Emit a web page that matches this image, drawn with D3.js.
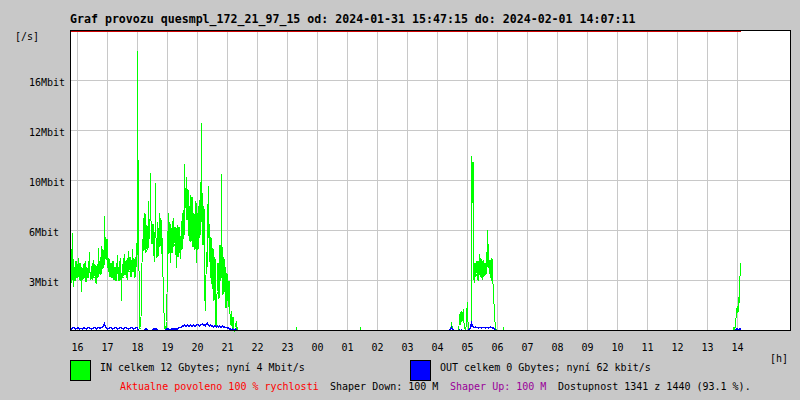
<!DOCTYPE html>
<html><head><meta charset="utf-8">
<script src="https://cdn.jsdelivr.net/npm/d3@7"></script>
<style>html,body{margin:0;padding:0;background:#c8c8c8;} svg{display:block}</style>
</head><body><svg id="chart" width="800" height="400"></svg>
<script>
// ---------- data ----------
const titleText = "Graf provozu quesmpl_172_21_97_15 od: 2024-01-31 15:47:15 do: 2024-02-01 14:07:11";
const startTime = "2024-01-31 15:47:15";
const endTime = "2024-02-01 14:07:15";
const yMax = 20;            // Mbit/s at top of plot
const limitMbit = 100;      // shaper limit (drawn clipped at top)
const yTickValues = [3.33, 6.67, 10, 13.33, 16.67];
const yTickLabels = ["3Mbit", "6Mbit", "10Mbit", "12Mbit", "16Mbit"];
const hourLabels = ["16","17","18","19","20","21","22","23","00","01","02","03","04","05","06","07","08","09","10","11","12","13","14"];

// IN traffic, Mbit/s: "Even" = even minutes, "Odd" = odd minutes after segment start
const inEveningStart = "2024-01-31 15:47:15";
const inEveningEven = [
7.3,4.0,6.5,2.9,4.2,3.6,4.5,3.8,4.8,3.4,4.1,2.6,3.9,4.4,3.5,4.6,3.3,4.0,3.7,5.2,
3.9,4.3,3.4,4.7,3.6,4.2,3.1,4.4,5.5,3.8,4.9,5.6,4.1,5.2,7.6,6.2,4.7,5.8,3.9,4.5,
3.6,4.3,3.8,4.6,3.4,4.1,3.7,5.0,4.2,3.5,4.8,2.0,4.4,3.6,5.1,3.9,4.7,3.4,5.3,4.0,
4.6,3.7,5.4,4.2,3.8,4.9,5.8,18.6,10.7,3.0,0.2,1.8,6.1,7.5,6.7,7.2,5.4,6.4,8.6,6.1,
10.5,7.0,5.8,6.3,4.6,9.8,6.0,7.2,5.0,7.8,6.4,5.1,4.2,2.8,0.5,0.2,0.6,5.5,7.8,6.0,
4.5,6.8,5.2,7.5,5.8,6.3,4.2,7.0,5.5,6.6,4.8,7.3,5.9,8.0,11.1,9.5,10.2,7.5,8.6,6.0,
9.0,6.8,8.2,5.7,7.4,6.2,4.5,7.8,6.5,8.7,9.9,13.8,8.4,6.0,3.8,1.3,5.2,6.6,9.6,7.1,
3.5,5.1,2.8,4.2,3.0,1.0,0.7,2.6,4.4,3.2,5.4,10.4,4.8,3.5,2.6,4.2,2.2,3.6,1.6,2.8,
0.4,1.3,0.2,0.8,0,0.2,0.6,0.2];
const inEveningOdd = [
5.5,3.2,4.8,4.0,3.3,4.6,3.5,4.4,3.6,4.5,3.3,4.2,3.4,3.6,4.5,3.3,4.2,3.5,4.6,3.9,
3.4,3.6,4.5,3.5,4.4,3.2,4.3,3.5,4.1,4.6,3.7,4.3,5.4,4.2,5.9,4.8,6.1,4.2,4.8,3.6,
4.5,3.5,4.6,3.4,4.2,3.3,4.5,3.8,3.3,4.6,3.4,3.8,3.5,4.8,3.7,4.6,3.5,4.8,3.9,4.9,
3.6,4.7,3.9,4.8,3.5,4.2,4.3,11.4,4.0,0.1,0.9,4.5,5.2,5.3,7.8,5.2,7.0,5.4,6.3,7.4,
7.3,5.8,7.1,5.0,6.5,6.2,4.8,5.9,6.8,5.6,7.5,6.2,3.6,1.2,0.1,0.1,2.4,6.6,5.1,7.2,
6.5,5.2,7.3,5.6,6.9,5.0,6.8,4.9,6.9,5.2,6.3,5.4,7.8,6.1,8.3,8.2,7.4,9.4,6.3,8.3,
5.9,8.9,5.6,7.8,5.4,8.6,6.7,5.4,8.3,6.2,7.1,9.2,5.7,8.3,2.0,3.7,4.1,8.4,6.2,4.6,
6.2,3.1,5.5,2.0,4.9,0.3,2.4,4.5,2.1,5.7,3.3,5.6,2.4,4.9,3.6,1.5,3.8,2.0,3.3,1.1,
1.1,0.3,0.9,0.1,0.1,0.5,0.1,0];
// OUT traffic, Mbit/s, one value per 2 minutes
const outEvening = [
0.15,0.1,0.15,0.2,0.15,0.1,0.15,0.15,0.2,0.1,0.15,0.15,0.1,0.2,0.15,0.15,0.1,0.15,0.2,0.15,
0.15,0.1,0.15,0.15,0.2,0.15,0.1,0.15,0.2,0.15,0.15,0.2,0.25,0.3,0.45,0.25,0.15,0.1,0.15,0.15,
0.2,0.15,0.1,0.15,0.15,0.2,0.15,0.1,0.15,0.15,0.2,0.15,0.15,0.1,0.15,0.2,0.15,0.15,0.1,0.15,
0.15,0.2,0.15,0.1,0.15,0.15,0.2,0.15,
0,0,0,0,0,0,0,0.1,0.1,0,0,0,0,0,0,0.1,0.1,0.1,0.1,0,0,0,0,0,0,0,0,0,0.1,0.1,0.1,0,0,0.1,0.1,0.1,0.1,0.1,
0.1,0.1,0.15,0.2,0.2,0.25,0.3,
0.3,0.35,0.3,0.3,0.35,0.3,0.3,0.35,0.3,0.3,0.35,0.3,0.3,0.35,0.4,0.35,0.3,0.35,0.4,0.45,
0.35,0.4,0.3,0.45,0.5,0.35,0.3,0.35,0.3,0.3,0.25,0.3,0.3,0.25,0.3,0.25,0.3,0.25,0.2,0.3,
0.2,0.25,0.2,0.2,0.15,0.2,0.1,
0.1,0.05,0.1,0,0,0.1,0.05,0];

const inMorningStart = "2024-02-01 04:27:15";
const inMorningEven = [
0.2,0.55,0.3,0,0,0,0,0,0.1,1.1,0.5,1.3,0.8,1.4,0.3,0.1,0.5,1.9,0.3,0.1,
0.2,11.6,8.5,4.2,3.2,4.4,3.8,4.5,3.3,5.1,3.6,4.2,3.4,4.7,3.9,4.4,5.2,6.7,5.6,3.8,
4.6,3.3,4.5,2.6,1.2,0.4,0,0];
const inMorningOdd = [
0.1,0.3,0.1,0,0,0,0,0,0.3,0.4,1.2,0.6,1.2,0.5,0.1,0.2,1.5,0.6,0.1,0.1,
0.1,9.5,11.2,3.4,4.5,3.6,4.6,3.4,4.6,3.7,4.8,3.5,4.6,3.6,4.5,3.7,4.1,5.8,4.2,4.7,
3.5,4.8,3.1,1.8,0.6,0.1,0,0];
const outMorning = [
0.1,0.2,0.1,0,0,0,0,0,0,0.05,0,0.05,0,0,0,0,0,0,0,0.1,
0.15,0.5,0.3,0.2,0.2,0.25,0.2,0.2,0.15,0.2,0.2,0.15,0.2,0.2,0.2,0.15,0.2,0.2,0.15,0.2,
0.25,0.2,0.15,0.2,0.1,0.05,0,0];

const inAfternoonStart = "2024-02-01 13:53:15";
const inAfternoonEven = [0.1,0.1,0.4,1.1,1.6,2.2,2.7,4.5];
const inAfternoonOdd = [0,0.2,0.8,1.5,1.2,1.8,3.6];
const outAfternoon = [0,0,0.05,0.1,0.1,0.05,0.1,0.1];

const inBlipTimes = ["2024-01-31 23:19:15", "2024-02-01 01:27:15", "2024-02-01 06:13:15"];
const inBlipValues = [0.12, 0.12, 0.1];

const legendIn = "IN celkem 12 Gbytes; nyní 4 Mbit/s";
const legendOut = "OUT celkem 0 Gbytes; nyní 62 kbit/s";
const footerTexts = ["Aktualne povoleno 100 % rychlosti", "Shaper Down: 100 M", "Shaper Up: 100 M", "Dostupnost 1341 z 1440 (93.1 %)."];
const footerColors = ["#ff0000", "#000000", "#990099", "#000000"];

// ---------- build ----------
(function () {
const parse = d3.timeParse("%Y-%m-%d %H:%M:%S");
const t0 = parse(startTime), tEnd = parse(endTime);
const nMin = Math.round((tEnd - t0) / 60000) + 1;
const n2 = Math.round((tEnd - t0) / 120000) + 1;
const inTimes = d3.range(nMin).map(i => d3.timeMinute.offset(t0, i));
const outTimes = d3.range(n2).map(i => d3.timeMinute.offset(t0, 2 * i));
const inVals = new Array(nMin).fill(0);
const outVals = new Array(n2).fill(0);
const minOff = s => Math.round((parse(s) - t0) / 60000);
function placeIn(startStr, even, odd) {
  const off = minOff(startStr);
  even.forEach((v, i) => { if (off + 2 * i < nMin) inVals[off + 2 * i] = v; });
  odd.forEach((v, i) => { if (off + 2 * i + 1 < nMin) inVals[off + 2 * i + 1] = v; });
}
function placeOut(startStr, vals) {
  const off = Math.round(minOff(startStr) / 2);
  vals.forEach((v, i) => { if (off + i < n2) outVals[off + i] = v; });
}
placeIn(inEveningStart, inEveningEven, inEveningOdd);
placeIn(inMorningStart, inMorningEven, inMorningOdd);
placeIn(inAfternoonStart, inAfternoonEven, inAfternoonOdd);
placeOut(inEveningStart, outEvening);
placeOut(inMorningStart, outMorning);
placeOut(inAfternoonStart, outAfternoon);
inBlipTimes.forEach((s, i) => { inVals[minOff(s)] = inBlipValues[i]; });

const inSeries = inTimes.map((t, i) => ({t, v: inVals[i]}));
const outSeries = outTimes.map((t, i) => ({t, v: outVals[i]}));

const pL = 70.5, pR = 790.5, pT = 30.5, pB = 330.5;
const x = d3.scaleTime().domain([t0, d3.timeHour.offset(t0, 24)]).range([pL, pR]);
const y = d3.scaleLinear().domain([0, yMax]).range([pB, pT]);

const svg = d3.select("#chart");
const font = "'DejaVu Sans Mono', 'Liberation Mono', monospace";
svg.append("rect").attr("width", 800).attr("height", 400).attr("fill", "#c8c8c8");
svg.append("rect").attr("x", 70).attr("y", 30).attr("width", 720).attr("height", 300).attr("fill", "#ffffff");

// grid
const gGrid = svg.append("g").attr("stroke", "#c8c8c8").attr("stroke-width", 1).attr("shape-rendering", "crispEdges");
yTickValues.forEach(v => {
  const yy = Math.floor(y(v)) + 0.5;
  gGrid.append("line").attr("x1", pL).attr("x2", pR).attr("y1", yy).attr("y2", yy);
});
const firstHour = d3.timeHour.ceil(t0);
const hourTimes = hourLabels.map((l, i) => d3.timeHour.offset(firstHour, i));
hourTimes.forEach(t => {
  const xx = Math.round(x(t)) + 0.5;
  gGrid.append("line").attr("x1", xx).attr("x2", xx).attr("y1", pT).attr("y2", pB);
});

// data lines
const line = d3.line().x(d => x(d.t)).y(d => y(d.v));
svg.append("path").datum(inSeries).attr("d", line).attr("fill", "none")
  .attr("stroke", "#00ff00").attr("stroke-width", 1).attr("shape-rendering", "crispEdges");
svg.append("path").datum(outSeries).attr("d", line).attr("fill", "none")
  .attr("stroke", "#0000ff").attr("stroke-width", 1.4).attr("shape-rendering", "crispEdges");

// frame
svg.append("rect").attr("x", pL).attr("y", pT).attr("width", pR - pL).attr("height", pB - pT)
  .attr("fill", "none").attr("stroke", "#000").attr("stroke-width", 1).attr("shape-rendering", "crispEdges");
// limit line (clipped at top)
const limY = y(Math.min(limitMbit, yMax)) + 1;
svg.append("line").attr("x1", x(t0)).attr("x2", x(tEnd)).attr("y1", limY).attr("y2", limY)
  .attr("stroke", "#cc0000").attr("stroke-width", 1).attr("shape-rendering", "crispEdges");

// texts
svg.append("text").attr("x", 70).attr("y", 23).attr("font-family", font).attr("font-weight", "bold")
  .attr("font-size", "11.6px").attr("fill", "#000").text(titleText);
svg.append("text").attr("x", 15).attr("y", 40).attr("font-family", font).attr("font-size", "10px").text("[/s]");
yTickValues.forEach((v, i) => {
  svg.append("text").attr("x", 29).attr("y", Math.floor(y(v)) + 6).attr("font-family", font)
    .attr("font-size", "10px").attr("fill", "#000").text(yTickLabels[i]);
});
hourTimes.forEach((t, i) => {
  svg.append("text").attr("x", Math.round(x(t)) + 0.5).attr("y", 351).attr("text-anchor", "middle")
    .attr("font-family", font).attr("font-size", "10px").attr("fill", "#000").text(hourLabels[i]);
});
svg.append("text").attr("x", 770).attr("y", 362).attr("font-family", font).attr("font-size", "10px").text("[h]");

// legend
svg.append("rect").attr("x", 70.5).attr("y", 360.5).attr("width", 20).attr("height", 20)
  .attr("fill", "#00ff00").attr("stroke", "#000").attr("shape-rendering", "crispEdges");
svg.append("text").attr("x", 100).attr("y", 371).attr("font-family", font).attr("font-size", "10px").text(legendIn);
svg.append("rect").attr("x", 410.5).attr("y", 360.5).attr("width", 20).attr("height", 20)
  .attr("fill", "#0000ff").attr("stroke", "#000").attr("shape-rendering", "crispEdges");
svg.append("text").attr("x", 440).attr("y", 371).attr("font-family", font).attr("font-size", "10px").text(legendOut);

const footerX = [120, 330, 450, 558];
footerTexts.forEach((txt, i) => {
  svg.append("text").attr("x", footerX[i]).attr("y", 390).attr("font-family", font).attr("font-size", "10px")
    .attr("fill", footerColors[i]).text(txt);
});
})();
</script></body></html>
